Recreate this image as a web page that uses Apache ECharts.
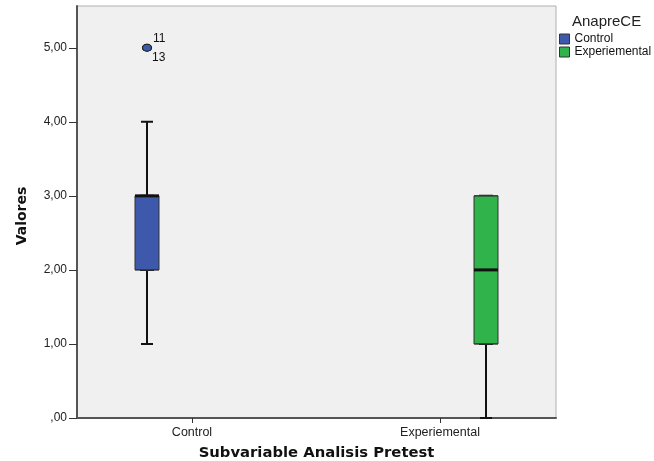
<!DOCTYPE html>
<html>
<head>
<meta charset="utf-8">
<script src="https://cdn.jsdelivr.net/npm/echarts@6/dist/echarts.min.js"></script>
<style>html,body{margin:0;padding:0;background:#fff;}#c{width:654px;height:461px;}</style>
</head>
<body>
<div id="c"></div>
<script>
const categories = ['Control', 'Experiemental'];
const groupColors = ['#3e58ac', '#2fb34a'];
const whiskerLow = [1, 0];
const q1 = [2, 1];
const median = [3, 2];
const q3 = [3, 3];
const whiskerHigh = [4, 3];
const outlierCat = [0, 0];
const outlierValue = [5, 5];
const outlierLabel = ['11', '13'];

const FONT = 'Liberation Sans, Arial, sans-serif';
const BOLDFONT = 'DejaVu Sans, Verdana, sans-serif';
const fmt = v => v === 0 ? ',00' : v.toFixed(2).replace('.', ',');

const fullData = categories.map((c, i) => [whiskerLow[i], q1[i], median[i], q3[i], whiskerHigh[i]]);
const bodyData = categories.map((c, i) => ({
  value: [q1[i], q1[i], median[i], q3[i], q3[i]],
  itemStyle: { color: groupColors[i] }
}));

const hiddenCat = (gi) => ({
  type: 'category', gridIndex: gi, data: categories, boundaryGap: true,
  axisLine: { show: false }, axisTick: { show: false }, axisLabel: { show: false }, splitLine: { show: false }
});
const hiddenVal = (gi, max) => ({
  type: 'value', gridIndex: gi, min: 0, max: max,
  axisLine: { show: false }, axisTick: { show: false }, axisLabel: { show: false }, splitLine: { show: false }
});

const chart = echarts.init(document.getElementById('c'), null, { renderer: 'canvas' });
chart.setOption({
  animation: false,
  backgroundColor: '#ffffff',
  title: {
    text: 'AnapreCE', left: 572, top: 14, padding: 0,
    textStyle: { fontFamily: FONT, fontSize: 15, fontWeight: 'normal', color: '#222' }
  },
  legend: {
    orient: 'vertical', left: 559, top: 33, padding: 0, itemWidth: 10, itemHeight: 10, itemGap: 1,
    icon: 'rect',
    textStyle: { fontFamily: FONT, fontSize: 12, color: '#111', lineHeight: 12 },
    data: categories.map((c, i) => ({ name: c, itemStyle: { color: groupColors[i], opacity: 1, borderColor: '#333', borderWidth: 1 } }))
  },
  grid: [
    { left: 77, right: 98, top: 6, bottom: 43, outerBoundsMode: 'none', show: true, backgroundColor: '#f0f0f0', borderColor: '#b0b0b0', borderWidth: 1 },
    { left: 77, right: 98, top: 47.75, bottom: 43, outerBoundsMode: 'none' },
    { left: -22.5, width: 678, top: 47.75, bottom: 43, outerBoundsMode: 'none' },
    { left: 68, width: 496, top: 6, bottom: 43, outerBoundsMode: 'none' }
  ],
  xAxis: [
    {
      type: 'category', gridIndex: 0, data: categories,
      axisLine: { show: true, lineStyle: { color: '#555', width: 2 } },
      axisTick: { show: false }, axisLabel: { show: false },
      name: 'Subvariable Analisis Pretest', nameLocation: 'middle', nameGap: 28,
      nameTextStyle: { fontFamily: BOLDFONT, fontSize: 14.8, fontWeight: 'bold', color: '#111' }
    },
    hiddenCat(1),
    hiddenCat(2),
    hiddenCat(2),
    {
      type: 'category', gridIndex: 3, data: categories, boundaryGap: true,
      axisLine: { show: false },
      axisTick: { show: true, alignWithLabel: true, length: 5, lineStyle: { color: '#333', width: 1 } },
      axisLabel: { show: true, margin: 8, fontFamily: FONT, fontSize: 12.5, color: '#222' },
      splitLine: { show: false }
    }
  ],
  yAxis: [
    {
      type: 'value', gridIndex: 0, min: 0, max: 5.56,
      axisLine: { show: true, lineStyle: { color: '#555', width: 2 } },
      axisTick: { show: false }, axisLabel: { show: false }, splitLine: { show: false },
      name: 'Valores', nameLocation: 'middle', nameGap: 48, nameRotate: 90,
      nameTextStyle: { fontFamily: BOLDFONT, fontSize: 14, fontWeight: 'bold', color: '#111', padding: [0, 8, 0, 0] }
    },
    {
      type: 'value', gridIndex: 1, min: 0, max: 5, interval: 1,
      axisLine: { show: false },
      axisTick: { show: true, length: 8, lineStyle: { color: '#333', width: 1 } },
      axisLabel: { show: true, margin: 10, formatter: fmt, fontFamily: FONT, fontSize: 12, color: '#222' },
      splitLine: { show: false }
    },
    hiddenVal(2, 5),
    hiddenVal(3, 5)
  ],
  series: [
    {
      type: 'boxplot', name: 'whiskers', xAxisIndex: 2, yAxisIndex: 2, z: 2,
      boxWidth: [12, 12], silent: true,
      itemStyle: { color: 'rgba(0,0,0,0)', borderColor: '#111', borderWidth: 2 },
      emphasis: { disabled: true },
      data: fullData
    },
    {
      type: 'boxplot', name: 'body', xAxisIndex: 3, yAxisIndex: 2, z: 3,
      boxWidth: [24, 24], silent: true,
      itemStyle: { borderColor: '#333', borderWidth: 1 },
      emphasis: { disabled: true },
      data: bodyData
    },
    {
      type: 'scatter', name: 'median', xAxisIndex: 3, yAxisIndex: 2, z: 4, silent: true,
      symbol: 'rect', symbolSize: [24, 3],
      itemStyle: { color: '#111', opacity: 1 },
      data: categories.map((c, i) => [i, median[i]])
    },
    {
      type: 'scatter', name: 'outliers', xAxisIndex: 2, yAxisIndex: 2, z: 5, silent: true,
      symbol: 'circle', symbolSize: [9, 7], clip: false,
      itemStyle: { color: groupColors[0], opacity: 1, borderColor: '#222', borderWidth: 1 },
      data: outlierValue.map((v, i) => ({
        value: [outlierCat[i], v],
        label: {
          show: true, formatter: outlierLabel[i], position: 'right', distance: 1,
          offset: i === 0 ? [0, -9] : [-1, 10],
          fontFamily: FONT, fontSize: 12, color: '#111'
        }
      }))
    },
    { type: 'scatter', name: categories[0], data: [], itemStyle: { color: groupColors[0], opacity: 1 } },
    { type: 'scatter', name: categories[1], data: [], itemStyle: { color: groupColors[1], opacity: 1 } }
  ]
});
</script>
</body>
</html>
